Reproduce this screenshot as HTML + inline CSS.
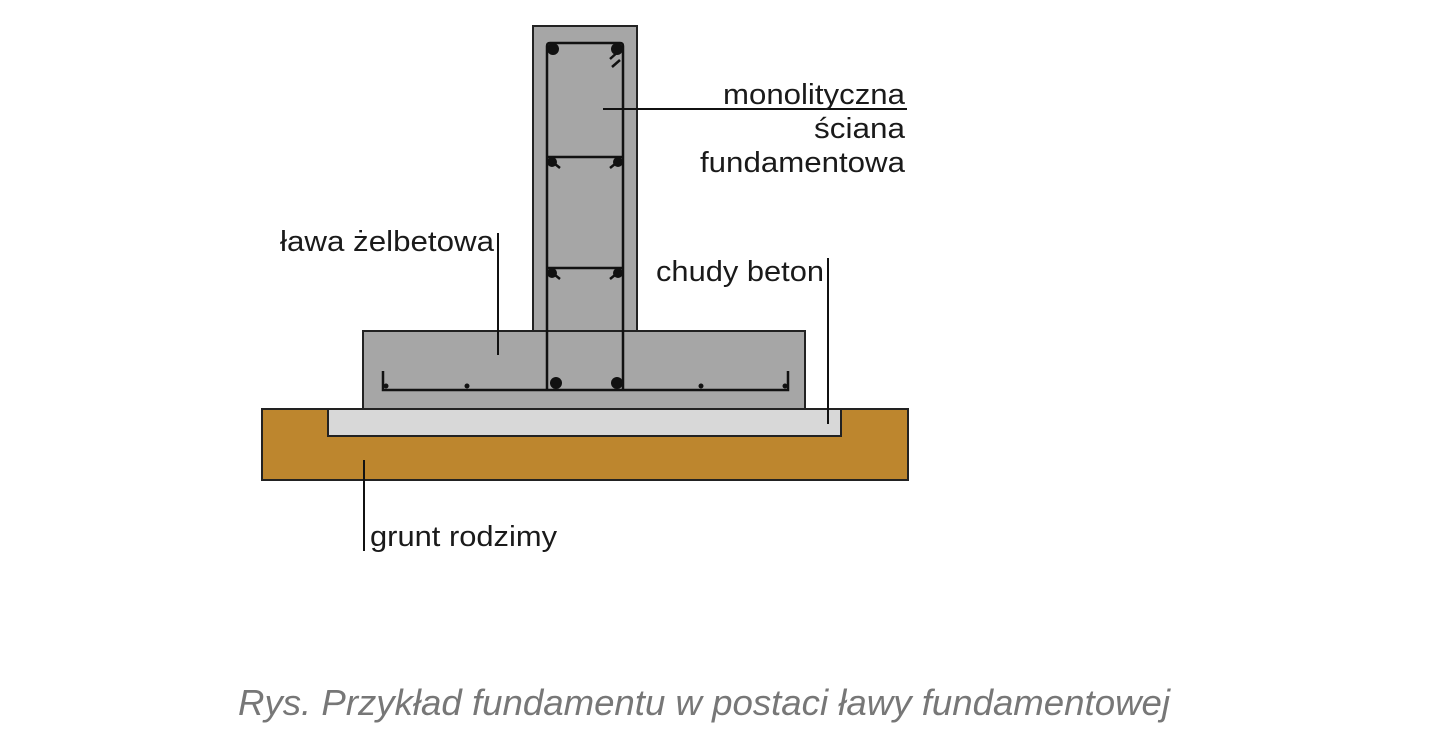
<!DOCTYPE html>
<html><head><meta charset="utf-8"><style>
html,body{margin:0;padding:0;background:#fff;width:1448px;height:745px;overflow:hidden}
</style></head><body>
<svg width="1448" height="745" viewBox="0 0 1448 745" xmlns="http://www.w3.org/2000/svg" font-family="Liberation Sans, sans-serif">
<rect x="262" y="409" width="646" height="71" fill="#bd862e" stroke="#222" stroke-width="2"/>
<rect x="328" y="409" width="513" height="27" fill="#d8d8d8" stroke="#222" stroke-width="2"/>
<rect x="533" y="26" width="104" height="310" fill="#a6a6a6" stroke="#222" stroke-width="2"/>
<rect x="363" y="331" width="442" height="78" fill="#a6a6a6" stroke="#222" stroke-width="2"/>
<rect x="534" y="332" width="102" height="4" fill="#a6a6a6"/>
<g stroke="#111" stroke-width="2.5" fill="none">
<path d="M547 390 V46 Q547 43 550 43 H620 Q623 43 623 46 V390"/>
<line x1="547" y1="157" x2="623" y2="157"/>
<line x1="547" y1="268" x2="623" y2="268"/>
<path d="M383 371 V390 H788 V371"/>
<path d="M610 59 L620 50 M612 67 L620 60"/>
<path d="M550 160 L560 168 M620 160 L610 168"/>
<path d="M550 271 L560 279 M620 271 L610 279"/>
</g>
<g fill="#111">
<circle cx="553" cy="49" r="6"/><circle cx="617" cy="49" r="6"/>
<circle cx="552" cy="162" r="5"/><circle cx="618" cy="162" r="5"/>
<circle cx="552" cy="273" r="5"/><circle cx="618" cy="273" r="5"/>
<circle cx="556" cy="383" r="6"/><circle cx="617" cy="383" r="6"/>
<circle cx="467" cy="386" r="2.5"/><circle cx="701" cy="386" r="2.5"/>
<circle cx="386" cy="386" r="2.5"/><circle cx="785" cy="386" r="2.5"/>
</g>
<g stroke="#111" stroke-width="2">
<line x1="603" y1="109" x2="907" y2="109"/>
<line x1="498" y1="233" x2="498" y2="355"/>
<line x1="828" y1="258" x2="828" y2="424"/>
<line x1="364" y1="460" x2="364" y2="551"/>
</g>
<g font-size="29" fill="#1a1a1a" lengthAdjust="spacingAndGlyphs">
<text x="723" y="104" textLength="182" lengthAdjust="spacingAndGlyphs">monolityczna</text>
<text x="814" y="138" textLength="91" lengthAdjust="spacingAndGlyphs">ściana</text>
<text x="700" y="172" textLength="205" lengthAdjust="spacingAndGlyphs">fundamentowa</text>
<text x="280" y="251" textLength="214" lengthAdjust="spacingAndGlyphs">ława żelbetowa</text>
<text x="656" y="281" textLength="168" lengthAdjust="spacingAndGlyphs">chudy beton</text>
<text x="370" y="546" textLength="187" lengthAdjust="spacingAndGlyphs">grunt rodzimy</text>
</g>
<text x="238" y="715" font-size="36" font-style="italic" fill="#777" textLength="932" lengthAdjust="spacingAndGlyphs">Rys. Przykład fundamentu w postaci ławy fundamentowej</text>
</svg>
</body></html>
